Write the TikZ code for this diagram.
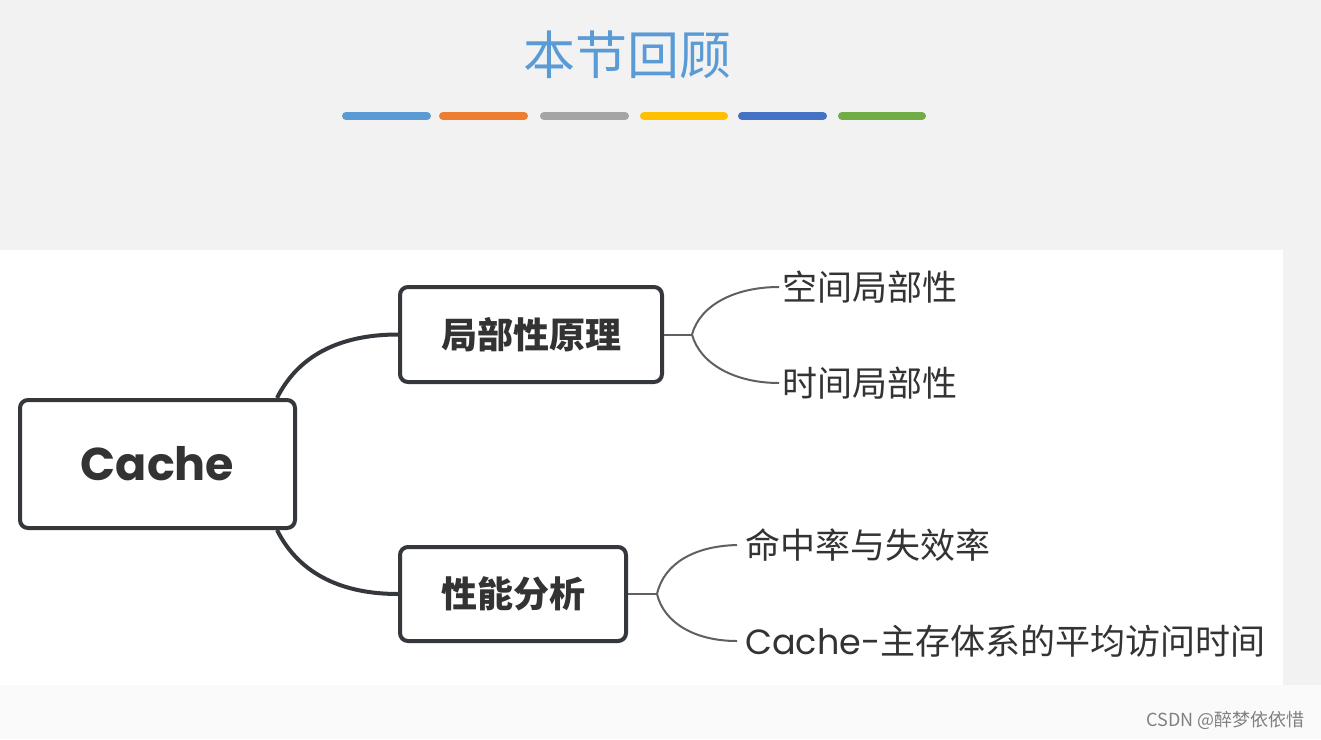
\documentclass[tikz,border=0pt]{standalone}
\usepackage{fontspec}
\newfontfamily\cjk{Noto Sans CJK SC}
\newfontfamily\lat{Poppins}
\usetikzlibrary{calc}
\definecolor{bgtop}{HTML}{F2F2F2}
\definecolor{bgbot}{HTML}{FAFAFA}
\definecolor{titleblue}{HTML}{5B9BD5}
\definecolor{boxline}{HTML}{34373C}
\definecolor{textdark}{HTML}{333333}
\definecolor{branch}{HTML}{606060}
\definecolor{cA}{HTML}{5B9BD5}
\definecolor{cB}{HTML}{ED7D31}
\definecolor{cC}{HTML}{A5A5A5}
\definecolor{cD}{HTML}{FFC000}
\definecolor{cE}{HTML}{4472C4}
\definecolor{cF}{HTML}{70AD47}
\tikzset{
  topicbox/.style={draw=boxline, line width=4pt, rounded corners=8pt, fill=white, inner sep=0pt, text=textdark},
  mainconn/.style={draw=boxline, line width=4pt},
  leafconn/.style={draw=branch, line width=2pt},
  leaf/.style={anchor=west, inner sep=0pt, text=textdark, font=\cjk\fontsize{35}{40}\selectfont},
  colbar/.style={line width=8pt, line cap=round},
}
\begin{document}
\begin{tikzpicture}[x=1pt,y=-1pt]
\useasboundingbox (0,0) rectangle (1321,739);
% backgrounds
\fill[bgtop] (0,0) rectangle (1321,739);
\fill[bgbot] (0,685) rectangle (1321,739);
\fill[white] (0,250) rectangle (1283,685);
% title
\node[text=titleblue, font=\cjk\fontsize{52}{56}\selectfont] (title) at (627,55) {本节回顾};
% color bars
\draw[colbar, cA] (346,116) -- (427,116);
\draw[colbar, cB] (443,116) -- (524,116);
\draw[colbar, cC] (544,116) -- (625,116);
\draw[colbar, cD] (644,116) -- (724,116);
\draw[colbar, cE] (742,116) -- (823,116);
\draw[colbar, cF] (842,116) -- (922,116);
% main nodes
\node[topicbox, minimum width=275pt, minimum height=128pt, font=\lat\bfseries\fontsize{46}{50}\selectfont] (cache) at (157.5,464) {Cache};
\node[topicbox, minimum width=262pt, minimum height=95pt, font=\cjk\bfseries\fontsize{36}{40}\selectfont] (b1) at (531,334.5) {局部性原理};
\node[topicbox, minimum width=226pt, minimum height=94pt, font=\cjk\bfseries\fontsize{36}{40}\selectfont] (b2) at (513,594) {性能分析};
% leaves
\node[leaf] (l1) at (782,287) {空间局部性};
\node[leaf] (l2) at (782,383) {时间局部性};
\node[leaf] (l3) at (745,545) {命中率与失效率};
\node[leaf] (l4) at (745,641) {{\lat Cache-}主存体系的平均访问时间};
% main connectors
\coordinate (ct) at ($(cache.north east)+(-20,0)$);
\coordinate (cb) at ($(cache.south east)+(-20,0)$);
\draw[mainconn] (ct) .. controls (300,352) and (345,334.5) .. (b1.west);
\draw[mainconn] (cb) .. controls (300,576) and (345,594) .. (b2.west);
% leaf connectors
\draw[leafconn] (b1.east) -- ++(28,0) coordinate (j1);
\draw[leafconn] (j1) .. controls (700,305) and (735,287) .. ($(l1.west)+(-3,0)$);
\draw[leafconn] (j1) .. controls (700,364) and (735,383) .. ($(l2.west)+(-3,0)$);
\draw[leafconn] (b2.east) -- ++(29,0) coordinate (j2);
\draw[leafconn] (j2) .. controls (664,563) and (695,546) .. ($(l3.west)+(-8,0)$);
\draw[leafconn] (j2) .. controls (664,623) and (695,641) .. ($(l4.west)+(-8,0)$);
% watermark
\node[anchor=east, inner sep=0pt, text=black!50, font=\cjk\fontsize{18}{20}\selectfont] (wm) at (1305,720) {CSDN @醉梦依依惜};
\end{tikzpicture}
\end{document}
